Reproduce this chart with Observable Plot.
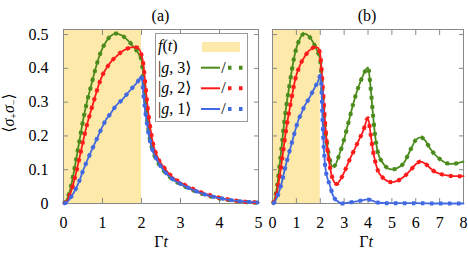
<!DOCTYPE html>
<html><head><meta charset="utf-8">
<script src="https://cdn.jsdelivr.net/npm/d3@7"></script>
<script src="https://cdn.jsdelivr.net/npm/@observablehq/plot@0.6"></script>
<style>
body{margin:0;background:#fff;}
#wrap{position:relative;width:468px;height:257px;font-family:"Liberation Serif","Times New Roman","DejaVu Serif",serif;overflow:hidden;}
#wrap svg{position:absolute;top:0;}
#wrap svg text{font-family:"Liberation Serif","Times New Roman","DejaVu Serif",serif;}
</style></head><body><div id="wrap"></div>
<script>
// ---- data ----
const shade = [[0, 2]];                     // f(t) interval
const yTicks = [0, 0.1, 0.2, 0.3, 0.4, 0.5];
const xTicksA = [0, 1, 2, 3, 4, 5];
const xTicksB = [0, 1, 2, 3, 4, 5, 6, 7, 8];
const seriesNames = ["|g, 3⟩", "|g, 2⟩", "|g, 1⟩"];

// shared rise (0..2)
const tRise = [0,0.1,0.2,0.3,0.4,0.5,0.6,0.7,0.8,0.9,1.0,1.1,1.2,1.35,1.5,1.65,1.8,1.9,2.0];
const g3Rise = [0,0.015,0.055,0.115,0.18,0.245,0.3,0.345,0.39,0.43,0.46,0.48,0.495,0.503,0.497,0.483,0.463,0.448,0.423];
const g2Rise = [0,0.01,0.038,0.08,0.13,0.183,0.232,0.273,0.312,0.35,0.38,0.4,0.417,0.435,0.45,0.459,0.463,0.461,0.44];
const g1Rise = [0,0.005,0.02,0.04,0.065,0.097,0.125,0.152,0.177,0.203,0.228,0.25,0.265,0.29,0.307,0.327,0.347,0.36,0.378];

// panel (a) decay
const tDecA = [2.05,2.1,2.2,2.3,2.4,2.6,2.8,3.0,3.3,3.6,4.0,4.5,5.0];
const g3DecA = [0.37,0.3,0.2,0.152,0.126,0.093,0.071,0.057,0.04,0.027,0.015,0.006,0.002];
const g2DecA = [0.41,0.35,0.245,0.175,0.14,0.103,0.078,0.062,0.044,0.03,0.017,0.007,0.003];
const g1DecA = [0.32,0.27,0.195,0.152,0.128,0.094,0.072,0.058,0.041,0.028,0.016,0.007,0.003];

// panel (b) after t = 2
const tB3 = [2.1,2.2,2.3,2.4,2.5,2.6,2.8,3.0,3.2,3.4,3.6,3.8,4.0,4.1,4.2,4.3,4.4,4.6,4.8,5.0,5.2,5.5,5.8,6.0,6.2,6.4,6.6,6.8,7.0,7.3,7.5,7.8,8.0];
const g3B = [0.32,0.23,0.17,0.13,0.11,0.112,0.145,0.19,0.245,0.3,0.345,0.38,0.403,0.35,0.27,0.2,0.155,0.122,0.106,0.101,0.104,0.12,0.162,0.188,0.196,0.186,0.163,0.145,0.132,0.119,0.117,0.12,0.124];
const tB2 = [2.1,2.2,2.3,2.4,2.5,2.6,2.7,2.8,3.0,3.2,3.4,3.6,3.8,4.0,4.1,4.2,4.3,4.4,4.6,4.8,5.0,5.2,5.5,5.8,6.0,6.2,6.4,6.6,6.8,7.0,7.3,7.6,8.0];
const g2B = [0.35,0.24,0.16,0.11,0.078,0.062,0.058,0.066,0.092,0.125,0.155,0.185,0.215,0.252,0.21,0.16,0.125,0.1,0.078,0.067,0.063,0.066,0.079,0.1,0.116,0.124,0.118,0.105,0.094,0.088,0.083,0.081,0.081];
const tB1 = [2.05,2.1,2.2,2.3,2.4,2.5,2.6,2.7,2.9,3.1,3.3,3.6,3.8,4.0,4.2,4.4,4.8,5.5,6.0,7.0,8.0];
const g1B = [0.345,0.24,0.115,0.075,0.055,0.03,0.015,0.008,0.0,0.002,0.004,0.007,0.01,0.012,0.008,0.003,0.001,0.001,0.001,0.0,0.0];

const colors = ["#4b8b1b", "#ff1a1a", "#4169e1"];
const shadeColor = "#fde9a9";
const serif = '"Liberation Serif", "Times New Roman", "DejaVu Serif", serif';

const rows = (ts, vs) => ts.map((t, i) => ({t, v: vs[i]}));
const seriesA = [
  rows(tRise.concat(tDecA), g3Rise.concat(g3DecA)),
  rows(tRise.concat(tDecA), g2Rise.concat(g2DecA)),
  rows(tRise.concat(tDecA), g1Rise.concat(g1DecA))
];
const seriesB = [
  rows(tRise.concat(tB3), g3Rise.concat(g3B)),
  rows(tRise.concat(tB2), g2Rise.concat(g2B)),
  rows(tRise.concat(tB1), g1Rise.concat(g1B))
];

function panel({xDomain, xTicks, yLabels, series, width, mL, mR}) {
  const marks = [
    Plot.rect(shade, {x1: d => d[0], x2: d => d[1], fill: shadeColor}),
    Plot.axisX({ticks: xTicks, anchor: "bottom", tickSize: -5, tickPadding: 18, stroke: "#888", fill: "#000", label: null, tickFormat: d => String(d)}),
    Plot.axisX({ticks: xTicks, anchor: "top", tickSize: -5, stroke: "#888", label: null, tickFormat: () => ""}),
    Plot.axisY({ticks: yTicks, anchor: "left", tickSize: -5, tickPadding: 20, stroke: "#888", fill: "#000", label: null, tickFormat: yLabels ? (d => String(d)) : (() => "")}),
    Plot.axisY({ticks: yTicks, anchor: "right", tickSize: -5, stroke: "#888", label: null, tickFormat: () => ""}),
    Plot.frame({stroke: "#888"})
  ];
  series.forEach((s, i) => {
    marks.push(Plot.line(s, {x: "t", y: "v", stroke: colors[i], strokeWidth: 1.8, curve: "monotone-x"}));
    marks.push(Plot.line(s, {x: "t", y: "v", stroke: colors[i], strokeWidth: 4, strokeDasharray: "3.5,5.5", strokeLinecap: "butt", curve: "monotone-x"}));
  });
  return Plot.plot({
    width, height: 257,
    marginLeft: mL, marginRight: mR, marginTop: 29, marginBottom: 54,
    x: {domain: xDomain}, y: {domain: [0, 0.515]},
    style: {fontFamily: serif, fontSize: "16px", background: "transparent", overflow: "visible"},
    marks
  });
}

const wrap = document.getElementById("wrap");
const pa = panel({xDomain: [0, 5], xTicks: xTicksA, yLabels: true, series: seriesA, width: 262, mL: 63, mR: 4});
pa.style.left = "0px";
const pb = panel({xDomain: [0, 8], xTicks: xTicksB, yLabels: false, series: seriesB, width: 206, mL: 10, mR: 5});
pb.style.left = "262px";
wrap.appendChild(pa);
wrap.appendChild(pb);

// overlay: titles, axis labels, legend
const ov = d3.select(wrap).append("svg").attr("width", 468).attr("height", 257)
  .style("left", "0px").style("font-family", serif).style("font-size", "16px");
ov.append("text").attr("x", 160.5).attr("y", 21).attr("text-anchor", "middle").text("(a)");
ov.append("text").attr("x", 367).attr("y", 21).attr("text-anchor", "middle").text("(b)");
for (const cx of [161, 366]) {
  const t = ov.append("text").attr("x", cx).attr("y", 247).attr("text-anchor", "middle");
  t.append("tspan").text("Γ");
  t.append("tspan").attr("font-style", "italic").text("t");
}
const yl = ov.append("text").attr("transform", "translate(14,113) rotate(-90)").attr("text-anchor", "middle");
yl.append("tspan").text("⟨");
yl.append("tspan").attr("font-style", "italic").text("σ");
yl.append("tspan").attr("font-size", "10px").attr("dy", 3).text("+");
yl.append("tspan").attr("font-style", "italic").attr("dy", -3).text("σ");
yl.append("tspan").attr("font-size", "10px").attr("dy", 3).text("−");
yl.append("tspan").attr("dy", -3).text("⟩");

const lg = ov.append("g");
lg.append("rect").attr("x", 155.5).attr("y", 33.5).attr("width", 92).attr("height", 88).attr("fill", "#fff").attr("stroke", "#999");
const ft = lg.append("text").attr("x", 158).attr("y", 51);
ft.append("tspan").attr("font-style", "italic").text("f");
ft.append("tspan").text("(");
ft.append("tspan").attr("font-style", "italic").text("t");
ft.append("tspan").text(")");
lg.append("rect").attr("x", 202).attr("y", 42).attr("width", 38).attr("height", 10).attr("fill", shadeColor);
const rowY = [67.7, 88.3, 109];
seriesNames.forEach((name, i) => {
  const y = rowY[i];
  const tx = lg.append("text").attr("x", 158).attr("y", y + 5);
  tx.append("tspan").text("|");
  tx.append("tspan").attr("font-style", "italic").text("g");
  tx.append("tspan").text(name.slice(2));
  lg.append("line").attr("x1", 201).attr("x2", 220).attr("y1", y).attr("y2", y).attr("stroke", colors[i]).attr("stroke-width", 2);
  lg.append("text").attr("x", 223.5).attr("y", y + 5).attr("text-anchor", "middle").text("/");
  lg.append("line").attr("x1", 228).attr("x2", 246).attr("y1", y).attr("y2", y).attr("stroke", colors[i]).attr("stroke-width", 4).attr("stroke-dasharray", "3.5,7.5");
});
</script></body></html>
